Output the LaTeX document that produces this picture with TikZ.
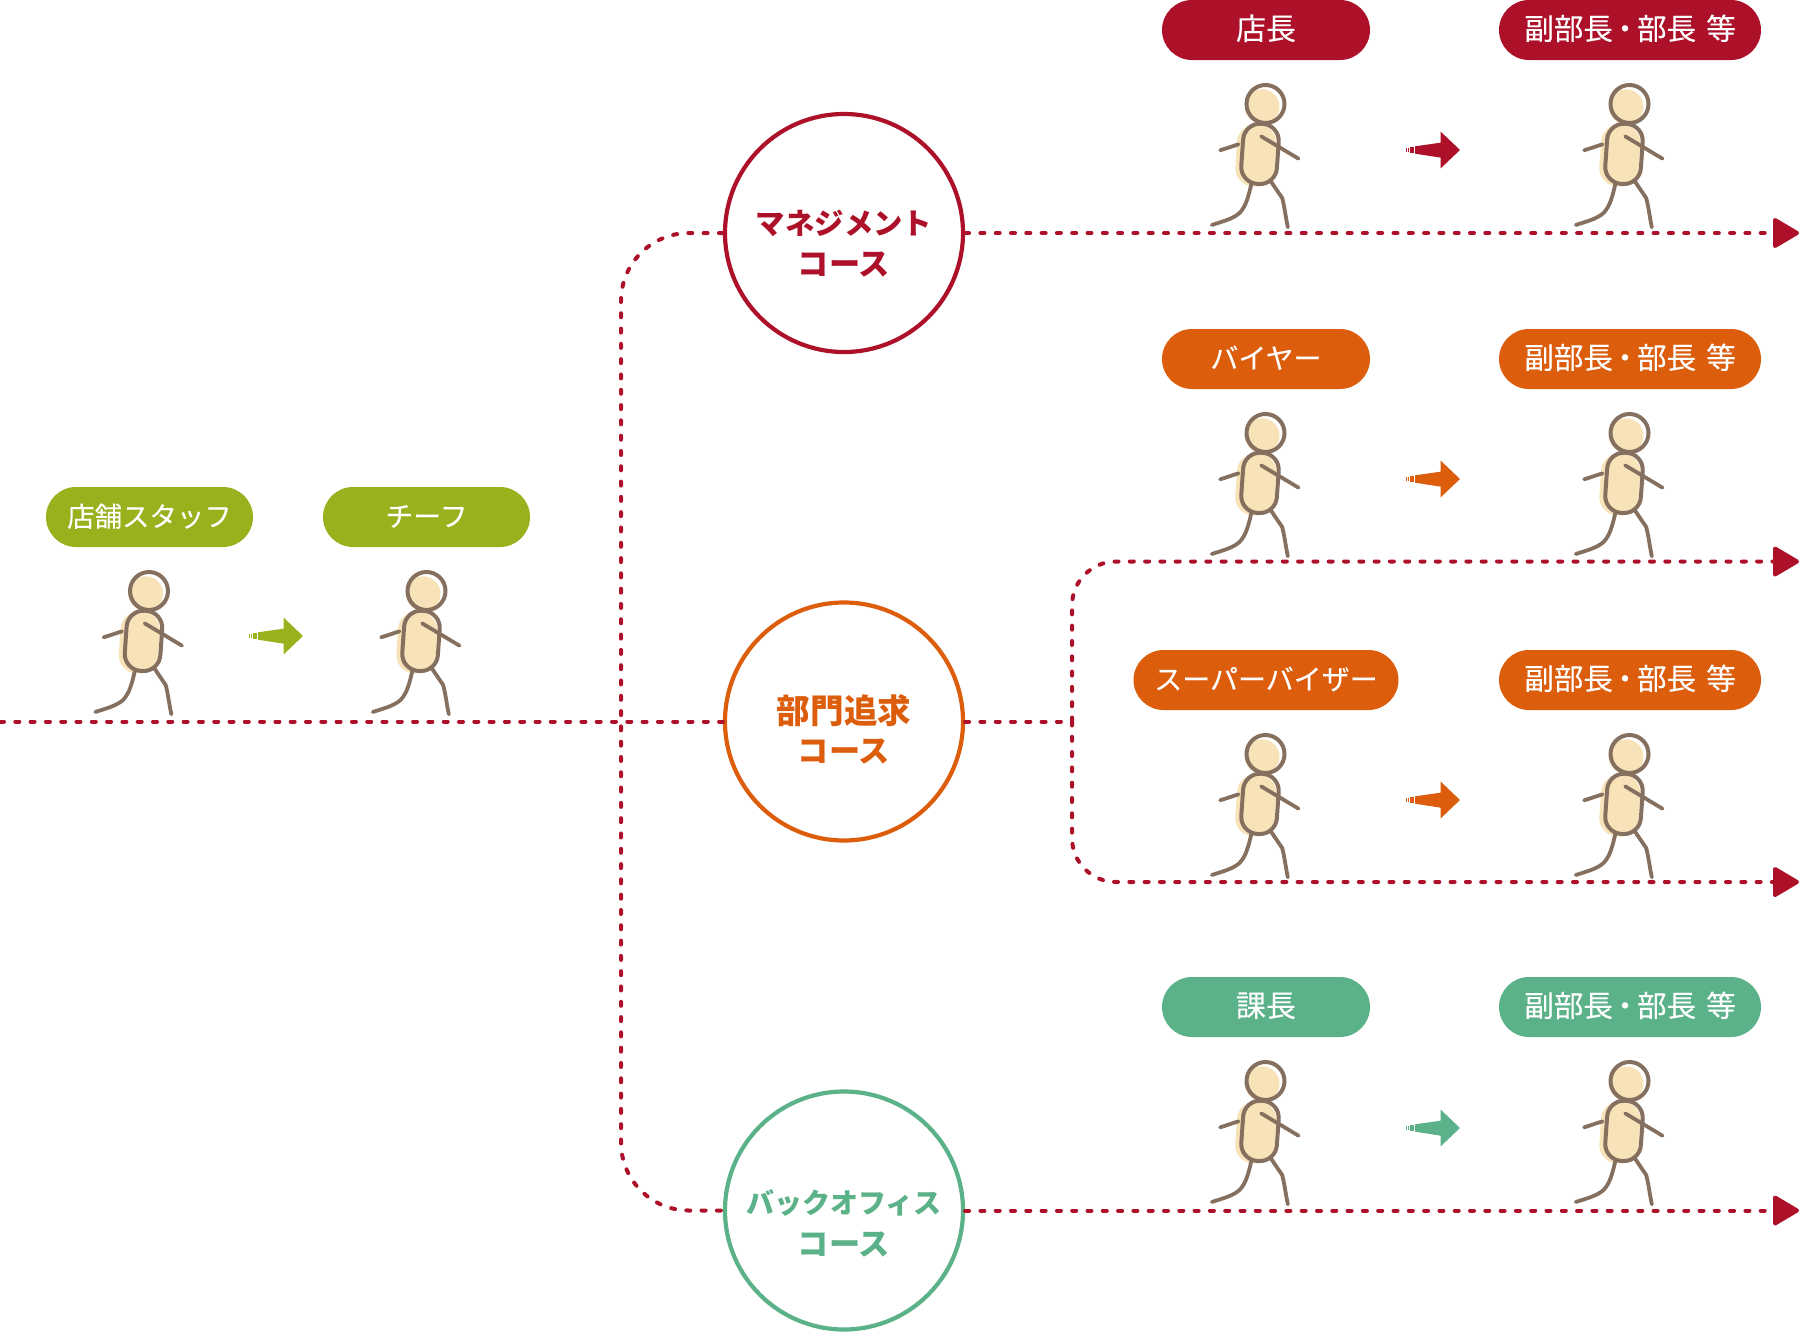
\documentclass[tikz,border=0pt]{standalone}
\usepackage{fontspec}
\setmainfont{Noto Sans CJK JP}
\newfontfamily\med[FakeBold=0.12]{Noto Sans CJK JP}
\usetikzlibrary{arrows.meta,shapes.misc}
\definecolor{cred}{HTML}{AD1029}
\definecolor{corg}{HTML}{DC5E0D}
\definecolor{cgrn}{HTML}{5BB188}
\definecolor{coli}{HTML}{9AB01C}
\definecolor{skin}{HTML}{F8E2B8}
\definecolor{brn}{HTML}{85705F}
\newcommand{\dep}{\fontsize{14.8}{15}\selectfont 副部長\kern-1.4pt・\kern-1.4pt部長\kern5pt 等}
\newcommand{\kanji}[1]{\fontsize{15}{15}\selectfont #1}
\tikzset{
  pill/.style={rounded rectangle,rounded rectangle arc length=180,minimum height=30pt,inner xsep=0pt,inner ysep=0pt,text=white,text height=9.6pt,text depth=0pt,font=\med\fontsize{14}{14}\selectfont,anchor=center},
  ring/.style={circle,draw,line width=2.1pt,minimum size=119pt,inner sep=0pt,fill=white},
  course/.style={font=\fontsize{#1}{#1}\bfseries\selectfont,inner sep=0pt,anchor=center},
  course/.default=14.5,
  dots/.style={cred,line width=2pt,line cap=round,dash pattern=on 2pt off 5.65pt},
  dotsarrow/.style={dots,-{Triangle[length=14pt,width=16pt,round=false]}},
  walker/.pic={
    \begin{scope}[scale=1/3,shift={(-208,-93)}]
      \fill[skin] (198,101) circle[radius=52];
      \fill[skin,rounded corners=9pt,rotate around={-4:(178,247)}] (120,155) rectangle (238,340);
      \draw[brn,line width=2pt] (208,93) circle[radius=57];
      \draw[brn,line width=2pt,rounded corners=8.5pt,rotate around={-4:(190,242)}] (138,152) rectangle (245,333);
      \draw[brn,line width=1.9pt,line cap=round] (72,232) -- (127,214);
      \draw[brn,line width=1.9pt,line cap=round] (195,190) -- (307,257);
      \draw[brn,line width=1.9pt,line cap=round] (165,335) .. controls (158,365) and (150,400) .. (130,420) .. controls (110,438) and (80,445) .. (47,456);
      \draw[brn,line width=1.9pt,line cap=round] (222,322) -- (258,375) .. controls (265,400) and (268,430) .. (275,463);
    \end{scope}
  },
  goarrow/.pic={
    \begin{scope}[scale=1/3,shift={(-670,-227)}]
      \fill[pic actions] (508,221) rectangle (511,233);
      \fill[pic actions] (514,220) rectangle (518,234);
      \fill[pic actions] (521,218) rectangle (532,237);
      \fill[pic actions] (535,216) -- (612,205) -- (612,172) -- (670,227) -- (612,282) -- (612,250) -- (535,238) -- cycle;
    \end{scope}
  }
}
\begin{document}
\begin{tikzpicture}[x=0.5pt,y=-0.5pt]
\useasboundingbox (0,0) rectangle (1800,1333);
% coordinates
\coordinate (start) at (0,721.5);
\coordinate (vt) at (621,233);
\coordinate (vb) at (621,1210.5);
\coordinate (j) at (1072,721.5);
\coordinate (jt) at (1072,561.5);
\coordinate (jb) at (1072,882);
\coordinate (e1) at (1799,233);
\coordinate (e2) at (1799,561.5);
\coordinate (e3) at (1799,882);
\coordinate (e4) at (1799,1210.5);
% connectors
\node[ring,draw=cred] (m) at (844,233) {};
\node[ring,draw=corg] (s) at (844,721.5) {};
\node[ring,draw=cgrn] (b) at (844,1210.5) {};
\draw[dots] (start) -- (s.west);
\draw[dots,rounded corners=34pt] (m.west) -- (vt) -- (vb) -- (b.west);
\draw[dots] (s.east) -- (j);
\draw[dotsarrow,rounded corners=22pt] (j) -- (jt) -- (e2);
\draw[dotsarrow,rounded corners=22pt] (j) -- (jb) -- (e3);
\draw[dotsarrow] (m.east) -- (e1);
\draw[dotsarrow] (b.east) -- (e4);
% course labels
\node[course=14.7,text=cred] (m1) at (844,223) {マネジメント};
\node[course=15.6,text=cred] (m2) at (844,265) {コース};
\node[course=16.8,text=corg] (s1) at (844,711) {部門追求};
\node[course=15.6,text=corg] (s2) at (844,752) {コース};
\node[course=14,text=cgrn] (b1) at (844,1203) {バックオフィス};
\node[course=15.6,text=cgrn] (b2) at (844,1245) {コース};
% pills
\node[pill,fill=coli,minimum width=103.5pt] (p1) at (149.5,517) {\fontsize{13.7}{14}\selectfont 店舗スタッフ};
\node[pill,fill=coli,minimum width=103.5pt] (p2) at (426.5,517) {チーフ};
\node[pill,fill=cred,minimum width=104pt] (a1) at (1266,30) {\kanji{店長}};
\node[pill,fill=cred,minimum width=131pt] (a2) at (1630,30) {\dep};
\node[pill,fill=corg,minimum width=104pt] (c1) at (1266,359) {バイヤー};
\node[pill,fill=corg,minimum width=131pt] (c2) at (1630,359) {\dep};
\node[pill,fill=corg,minimum width=132.5pt] (d1) at (1266,680) {スーパーバイザー};
\node[pill,fill=corg,minimum width=131pt] (d2) at (1630,680) {\dep};
\node[pill,fill=cgrn,minimum width=104pt] (f1) at (1266,1007) {\kanji{課長}};
\node[pill,fill=cgrn,minimum width=131pt] (f2) at (1630,1007) {\dep};
% walkers
\foreach \x/\y in {149/591,426.5/591,1265.5/104,1629.5/104,1265.5/433,1629.5/433,1265.5/754,1629.5/754,1265.5/1081,1629.5/1081}
  \pic at (\x,\y) {walker};
% small arrows
\pic[fill=coli] at (303,636) {goarrow};
\pic[fill=cred] at (1460,150) {goarrow};
\pic[fill=corg] at (1460,479) {goarrow};
\pic[fill=corg] at (1460,800) {goarrow};
\pic[fill=cgrn] at (1460,1128) {goarrow};
\end{tikzpicture}
\end{document}
